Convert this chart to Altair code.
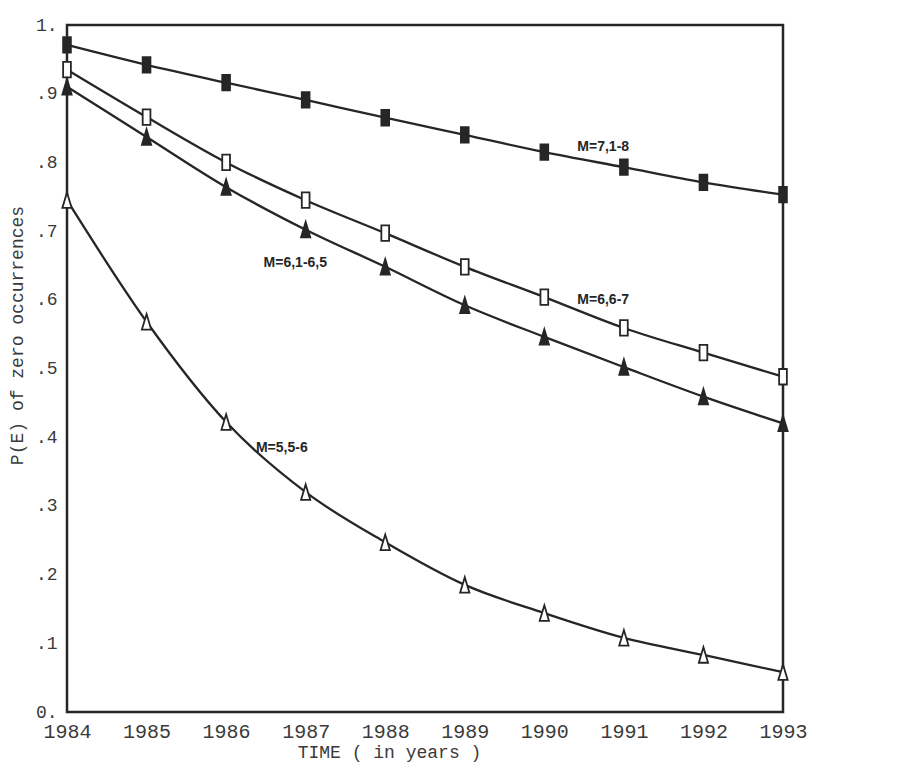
import altair as alt
import pandas as pd

years = [1984, 1985, 1986, 1987, 1988, 1989, 1990, 1991, 1992, 1993]
series_names = ["M=7,1-8", "M=6,6-7", "M=6,1-6,5", "M=5,5-6"]
m71_8 = [0.971, 0.942, 0.916, 0.891, 0.865, 0.840, 0.815, 0.793, 0.771, 0.753]
m66_7 = [0.935, 0.866, 0.800, 0.745, 0.697, 0.648, 0.604, 0.559, 0.523, 0.488]
m61_65 = [0.910, 0.837, 0.764, 0.702, 0.648, 0.592, 0.546, 0.502, 0.459, 0.420]
m55_6 = [0.745, 0.568, 0.422, 0.320, 0.247, 0.185, 0.144, 0.108, 0.083, 0.058]

label_text = ["M=7,1-8", "M=6,6-7", "M=6,1-6,5", "M=5,5-6"]
label_year = [1990.74, 1990.74, 1986.87, 1986.70]
label_value = [0.822, 0.600, 0.654, 0.384]

y_ticks = [0.0, 0.1, 0.2, 0.3, 0.4, 0.5, 0.6, 0.7, 0.8, 0.9, 1.0]

rows = []
for name, vals in zip(series_names, [m71_8, m66_7, m61_65, m55_6]):
    for yr, v in zip(years, vals):
        rows.append({"series": name, "year": yr, "value": v})
df = pd.DataFrame(rows)
labels_df = pd.DataFrame({"text": label_text, "year": label_year, "value": label_value})

ink = "#262626"
rect_path = "M-0.5,-1L0.5,-1L0.5,1L-0.5,1Z"
tri_path = "M0,-1L0.6,1L-0.6,1Z"

x_enc = alt.X(
    "year:Q",
    scale=alt.Scale(domain=[1984, 1993], nice=False, zero=False),
    axis=alt.Axis(
        values=years, format="d", title="TIME ( in years )", grid=False,
        ticks=False, domain=False, labelFont="Liberation Mono", labelFontSize=20,
        labelColor="#3a3a3a", labelPadding=9, labelFlush=False,
        titleFont="Liberation Mono", titleFontSize=18, titleFontWeight="normal",
        titleColor="#3a3a3a", titleX=322, titleY=40, titleBaseline="middle",
    ),
)
y_enc = alt.Y(
    "value:Q",
    scale=alt.Scale(domain=[0, 1], nice=False, zero=True),
    axis=alt.Axis(
        values=y_ticks, title="P(E) of zero occurrences", grid=False,
        ticks=False, domain=False, labelFont="Liberation Mono", labelFontSize=18,
        labelColor="#3a3a3a", labelPadding=10, labelFlush=False,
        labelExpr="datum.value == 0 ? '0.' : (datum.value == 1 ? '1.' : replace(format(datum.value, '.1f'), '0.', '.'))",
        titleFont="Liberation Mono", titleFontSize=18, titleFontWeight="normal",
        titleColor="#3a3a3a", titleX=-50, titleY=310, titleBaseline="middle",
        titleAngle=270,
    ),
)

base = alt.Chart(df)

lines = base.mark_line(color=ink, strokeWidth=2.3, interpolate="monotone").encode(
    x=x_enc, y=y_enc, detail="series:N"
)

points = base.mark_point(size=240, strokeWidth=1.8, opacity=1, stroke=ink).encode(
    x="year:Q",
    y="value:Q",
    shape=alt.Shape("series:N", scale=alt.Scale(domain=series_names,
                    range=[rect_path, rect_path, tri_path, tri_path]), legend=None),
    fill=alt.Fill("series:N", scale=alt.Scale(domain=series_names,
                  range=[ink, "white", ink, "white"]), legend=None),
)

texts = alt.Chart(labels_df).mark_text(
    font="Liberation Sans", fontSize=14, fontWeight="bold", color=ink,
    align="center", baseline="middle",
).encode(x="year:Q", y="value:Q", text="text:N")

chart = alt.layer(lines, points, texts).properties(
    width=716, height=687,
    autosize=alt.AutoSizeParams(type="none"),
    padding={"left": 59, "top": 17, "right": 125, "bottom": 56},
    background="white",
).configure_view(stroke=ink, strokeWidth=2.5)

chart.save("out.html", embed_options={"renderer": "svg", "actions": False})
